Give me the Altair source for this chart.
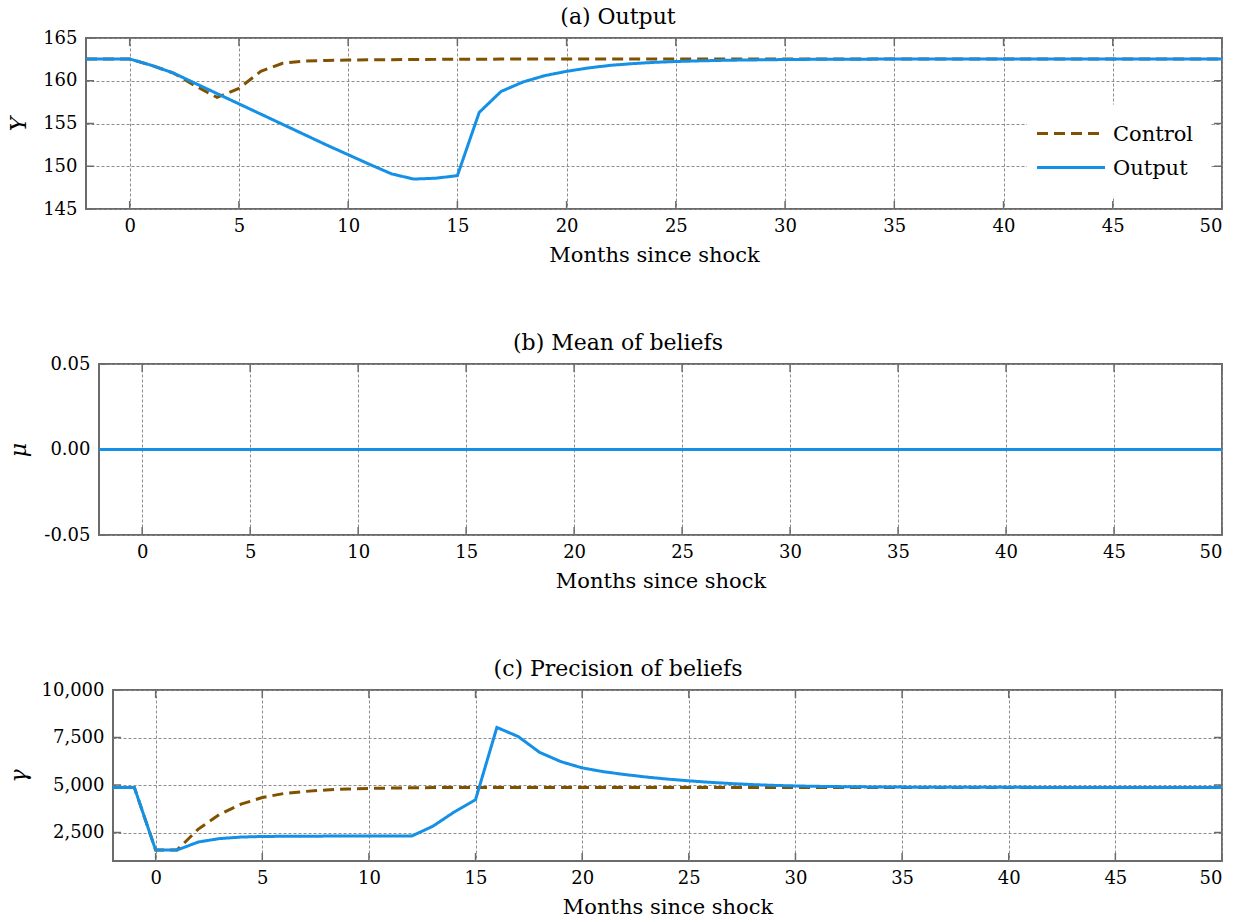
import altair as alt
import pandas as pd

# ---------------- data ----------------
months = list(range(-2, 51))
series_names = ["Control", "Output"]

control_Y = [162.55, 162.55, 162.55, 161.8, 160.9, 159.4, 158.05, 159.1, 161.1, 162.05,
             162.3, 162.38, 162.42, 162.45, 162.47, 162.49, 162.5, 162.51, 162.52, 162.53,
             162.54, 162.55, 162.55, 162.55, 162.55, 162.55, 162.55, 162.55, 162.55, 162.55,
             162.55, 162.55, 162.55, 162.55, 162.55, 162.55, 162.55, 162.55, 162.55, 162.55,
             162.55, 162.55, 162.55, 162.55, 162.55, 162.55, 162.55, 162.55, 162.55, 162.55,
             162.55, 162.55, 162.55]
output_Y = [162.55, 162.55, 162.55, 161.8, 160.9, 159.7, 158.5, 157.3, 156.1, 154.9,
            153.7, 152.5, 151.35, 150.2, 149.1, 148.5, 148.6, 148.9, 156.3, 158.75,
            159.85, 160.6, 161.1, 161.5, 161.8, 162.0, 162.15, 162.25, 162.32, 162.38,
            162.42, 162.45, 162.48, 162.5, 162.51, 162.52, 162.53, 162.54, 162.55, 162.55,
            162.55, 162.55, 162.55, 162.55, 162.55, 162.55, 162.55, 162.55, 162.55, 162.55,
            162.55, 162.55, 162.55]

control_mu = [0.0, 0.0, 0.0, 0.0, 0.0, 0.0, 0.0, 0.0, 0.0, 0.0, 0.0, 0.0, 0.0, 0.0,
              0.0, 0.0, 0.0, 0.0, 0.0, 0.0, 0.0, 0.0, 0.0, 0.0, 0.0, 0.0, 0.0, 0.0,
              0.0, 0.0, 0.0, 0.0, 0.0, 0.0, 0.0, 0.0, 0.0, 0.0, 0.0, 0.0, 0.0, 0.0,
              0.0, 0.0, 0.0, 0.0, 0.0, 0.0, 0.0, 0.0, 0.0, 0.0, 0.0]
output_mu = [0.0, 0.0, 0.0, 0.0, 0.0, 0.0, 0.0, 0.0, 0.0, 0.0, 0.0, 0.0, 0.0, 0.0,
             0.0, 0.0, 0.0, 0.0, 0.0, 0.0, 0.0, 0.0, 0.0, 0.0, 0.0, 0.0, 0.0, 0.0,
             0.0, 0.0, 0.0, 0.0, 0.0, 0.0, 0.0, 0.0, 0.0, 0.0, 0.0, 0.0, 0.0, 0.0,
             0.0, 0.0, 0.0, 0.0, 0.0, 0.0, 0.0, 0.0, 0.0, 0.0, 0.0]

control_gamma = [4875, 4875, 1575, 1575, 2680, 3460, 3990, 4340, 4550, 4660,
                 4740, 4790, 4820, 4840, 4855, 4863, 4868, 4871, 4873, 4874,
                 4875, 4875, 4875, 4875, 4875, 4875, 4875, 4875, 4875, 4875,
                 4875, 4875, 4875, 4875, 4875, 4875, 4875, 4875, 4875, 4875,
                 4875, 4875, 4875, 4875, 4875, 4875, 4875, 4875, 4875, 4875,
                 4875, 4875, 4875]
output_gamma = [4875, 4875, 1575, 1575, 2000, 2180, 2260, 2290, 2300, 2305,
                2310, 2310, 2310, 2310, 2310, 2830, 3580, 4230, 8030, 7550,
                6720, 6230, 5900, 5700, 5550, 5420, 5310, 5220, 5140, 5075,
                5020, 4980, 4950, 4930, 4915, 4903, 4895, 4889, 4884, 4881,
                4879, 4877, 4876, 4875, 4875, 4875, 4875, 4875, 4875, 4875,
                4875, 4875, 4875]

x_ticks = [0, 5, 10, 15, 20, 25, 30, 35, 40, 45, 50]
y_ticks_a = [145, 150, 155, 160, 165]
y_ticks_b = [-0.05, 0.0, 0.05]
y_ticks_c = [2500, 5000, 7500, 10000]

# ---------------- style ----------------
FONT = "DejaVu Serif"
BLUE = "#1490E6"
BROWN = "#805200"
FRAME = "#6b6b6b"
TICK_LEN = 8
H = 171
TITLE_CENTER = 618  # panel titles are centred on the figure, not on the plot


def make_df(ctrl, outp):
    rows = []
    for m, v in zip(months, ctrl):
        rows.append({"month": m, "value": v, "series": "Control"})
    for m, v in zip(months, outp):
        rows.append({"month": m, "value": v, "series": "Output"})
    return pd.DataFrame(rows)


def panel(df, title, ytitle, ydomain, yticks, yfmt, W, left, with_legend=False):
    X = alt.X("month:Q",
              scale=alt.Scale(domain=[-2, 50], nice=False, zero=False),
              axis=alt.Axis(values=x_ticks, title="Months since shock", format="d",
                            labelPadding=8, titlePadding=9))
    Y = alt.Y("value:Q",
              scale=alt.Scale(domain=ydomain, nice=False, zero=False),
              axis=alt.Axis(values=yticks, format=yfmt, title=ytitle,
                            titleFontStyle="italic", labelPadding=9,
                            labelExpr="replace(datum.label, '−', '-')",
                            titleX=18 - left, titleBaseline="middle"))
    color = alt.Color("series:N",
                      scale=alt.Scale(domain=series_names, range=[BROWN, BLUE]),
                      legend=None)
    dash = alt.StrokeDash("series:N",
                          scale=alt.Scale(domain=series_names, range=[[11, 6], [1, 0]]),
                          legend=None)
    lines = alt.Chart(df).mark_line(strokeWidth=3, clip=True).encode(
        x=X, y=Y, color=color, strokeDash=dash)

    xt = pd.DataFrame({"month": x_ticks})
    yt = pd.DataFrame({"value": yticks})
    tick_style = dict(color=FRAME, strokeWidth=1.5)
    xb = alt.Chart(xt).mark_rule(**tick_style).encode(
        x=X, y=alt.value(H), y2=alt.value(H - TICK_LEN))
    xtop = alt.Chart(xt).mark_rule(**tick_style).encode(
        x=X, y=alt.value(0), y2=alt.value(TICK_LEN))
    yl = alt.Chart(yt).mark_rule(**tick_style).encode(
        y=Y, x=alt.value(0), x2=alt.value(TICK_LEN))
    yr = alt.Chart(yt).mark_rule(**tick_style).encode(
        y=Y, x=alt.value(W), x2=alt.value(W - TICK_LEN))

    layers = [xb, xtop, yl, yr]
    if with_legend:
        leg_df = pd.DataFrame({"series": series_names})
        box = alt.Chart(leg_df.head(1)).mark_rect(fill="white").encode(
            x=alt.value(941), x2=alt.value(1124), y=alt.value(66.5), y2=alt.value(158.5))
        layers.append(box)
        for i, name in enumerate(series_names):
            sub = leg_df[leg_df["series"] == name]
            yy = 95.5 + 34 * i
            layers.append(alt.Chart(sub).mark_rule(strokeWidth=3).encode(
                x=alt.value(951), x2=alt.value(1019), y=alt.value(yy),
                color=color, strokeDash=dash))
            layers.append(alt.Chart(sub).mark_text(
                align="left", baseline="middle", font=FONT, fontSize=21,
                color="black").encode(
                text="series:N", x=alt.value(1027), y=alt.value(yy + 1)))
    layers.append(lines)

    layered = alt.layer(*layers).properties(
        width=W, height=H,
        title=alt.TitleParams(title, font=FONT, fontSize=22, fontWeight="normal",
                              color="black", offset=0, anchor="middle",
                              dx=TITLE_CENTER - (left + W / 2)))
    # an invisible 1px column on the left makes the panel be placed by its own
    # axis extent, so each panel's frame starts where its labels end
    spacer = alt.Chart(pd.DataFrame({"month": [0]})).mark_point(opacity=0).encode(
        x=alt.X("month:Q", axis=None), y=alt.Y("month:Q", axis=None)
    ).properties(width=1, height=H, view=alt.ViewBackground(stroke="transparent"))
    return alt.hconcat(spacer, layered, spacing=0)


pa = panel(make_df(control_Y, output_Y), "(a) Output", "Y", [145, 165], y_ticks_a, "d",
           1136, 86, with_legend=True)
pb = panel(make_df(control_mu, output_mu), "(b) Mean of beliefs", "μ", [-0.05, 0.05],
           y_ticks_b, ".2f", 1123, 99)
pc = panel(make_df(control_gamma, output_gamma), "(c) Precision of beliefs", "γ",
           [1000, 10000], y_ticks_c, ",d", 1109, 113)

chart = alt.vconcat(pa, pb, pc, spacing=65).resolve_scale(
    x="independent", y="independent", color="independent", strokeDash="independent"
).properties(
    padding={"left": -3, "top": 5, "right": 0, "bottom": 0}
).configure_view(
    stroke=FRAME, strokeWidth=2
).configure_axis(
    grid=True, gridDash=[3, 2], gridColor="#8c8c8c", gridWidth=1,
    domain=False, ticks=False,
    labelFont=FONT, labelFontSize=18, labelColor="black",
    titleFont=FONT, titleFontSize=21, titleFontWeight="normal", titleColor="black"
).configure_axisY(titleFontSize=22)

chart.save("out.html", embed_options={"renderer": "svg", "actions": False})
